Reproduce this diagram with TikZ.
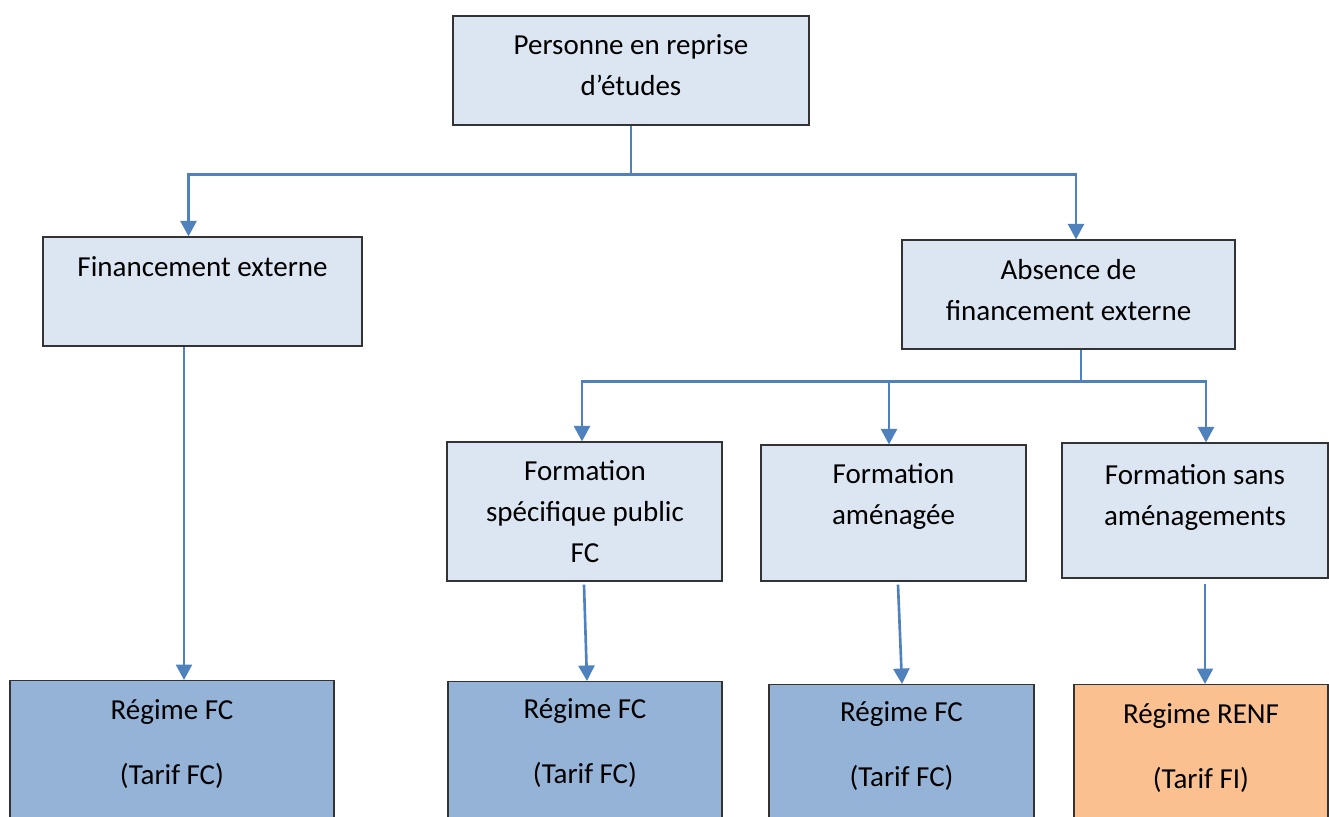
\documentclass[tikz,border=0pt]{standalone}
\usepackage{fontspec}
\setmainfont{Carlito}
\usetikzlibrary{calc,arrows.meta,positioning}
\definecolor{lineblue}{HTML}{4F81BD}
\definecolor{paleblue}{HTML}{DCE6F2}
\definecolor{midblue}{HTML}{95B3D7}
\definecolor{peach}{HTML}{FAC090}

\begin{document}
\begin{tikzpicture}[x=0.02cm, y=-0.02cm,
	box/.style={draw=black!80, line width=0.7pt, fill=paleblue, inner sep=0pt},
	lbl/.style={align=center, font=\fontsize{16.5}{23.3}\selectfont, inner sep=0pt},
	conn/.style={draw=lineblue, line width=1.5pt},
	arr/.style={conn, -{Triangle[width=0.32cm,length=0.31cm]}}]
			%%%%% START %%%%%
			
			\useasboundingbox (0,0) rectangle (1329,816);
			\clip (0,0) rectangle (1329,816);
			
			\node[box, minimum width=7.12cm, minimum height=2.18cm] (top) at (631,70.5) {};
			\node[lbl] (toptxt) at (631,65.5) {Personne en reprise\\d’études};
			
			\node[box, minimum width=6.38cm, minimum height=2.18cm] (finext) at (202.5,291.5) {};
			\node[lbl] (finexttxt) at (202.5,267) {Financement externe};
			
			\node[box, minimum width=6.66cm, minimum height=2.18cm] (absence) at (1068.5,294.5) {};
			\node[lbl] (absencetxt) at (1068.5,290.5) {Absence de\\financement externe};
			
			\node[box, minimum width=5.50cm, minimum height=2.78cm] (fspec) at (584.5,511.5) {};
			\node[lbl] (fspectxt) at (585,512) {Formation\\spécifique public\\FC};
			
			\node[box, minimum width=5.30cm, minimum height=2.72cm] (famen) at (893.5,513) {};
			\node[lbl] (famentxt) at (893.5,496) {Formation\\aménagée};
			
			\node[box, minimum width=5.32cm, minimum height=2.70cm] (fsans) at (1195,510.5) {};
			\node[lbl] (fsanstxt) at (1195,497.5) {Formation sans\\aménagements};
			
			\node[box, fill=midblue, anchor=north, minimum width=6.48cm, minimum height=3.6cm] (rfc1) at (172,680) {};
			\node[lbl] (rfc1txt) at (172,744.5) {Régime FC\\[13.7pt](Tarif FC)};
			
			\node[box, fill=midblue, anchor=north, minimum width=5.48cm, minimum height=3.6cm] (rfc2) at (585,681) {};
			\node[lbl] (rfc2txt) at (585,743.5) {Régime FC\\[13.7pt](Tarif FC)};
			
			\node[box, fill=midblue, anchor=north, minimum width=5.30cm, minimum height=3.6cm] (rfc3) at (901.5,684) {};
			\node[lbl] (rfc3txt) at (901.5,746.5) {Régime FC\\[13.7pt](Tarif FC)};
			
			\node[box, fill=peach, anchor=north, minimum width=5.08cm, minimum height=3.6cm] (renf) at (1201,684) {};
			\node[lbl] (renftxt) at (1201,748.5) {Régime RENF\\[13.7pt](Tarif FI)};
			
			\coordinate (split1) at ($(top.south)+(0,49)$);
			\draw[conn] (top.south) -- (split1);
			\draw[arr] (split1) -| ($(finext.north)+(-14,0)$);
			\draw[arr] (split1) -| ($(absence.north)+(7.5,0)$);
			
			\coordinate (split2) at ($(absence.south)+(12.5,32)$);
			\draw[conn] ($(absence.south)+(12.5,0)$) -- (split2);
			\draw[arr] (split2) -| ($(fspec.north)+(-2.5,0)$);
			\draw[arr] (split2) -| ($(famen.north)+(-4.5,0)$);
			\draw[arr] (split2) -| ($(fsans.north)+(11,0)$);
			
			\draw[arr] ($(finext.south)+(-18.5,0)$) -- ($(rfc1.north)+(12,0)$);
			\draw[arr] ($(fspec.south)+(-0.5,3)$) -- ($(rfc2.north)+(2,0)$);
			\draw[arr] ($(famen.south)+(4.5,3)$) -- ($(rfc3.north)+(0.5,0)$);
			\draw[arr] ($(fsans.south)+(10,5)$) -- ($(renf.north)+(4,0)$);
			
			%%%%% END %%%%%
		\end{tikzpicture}
\end{document}
